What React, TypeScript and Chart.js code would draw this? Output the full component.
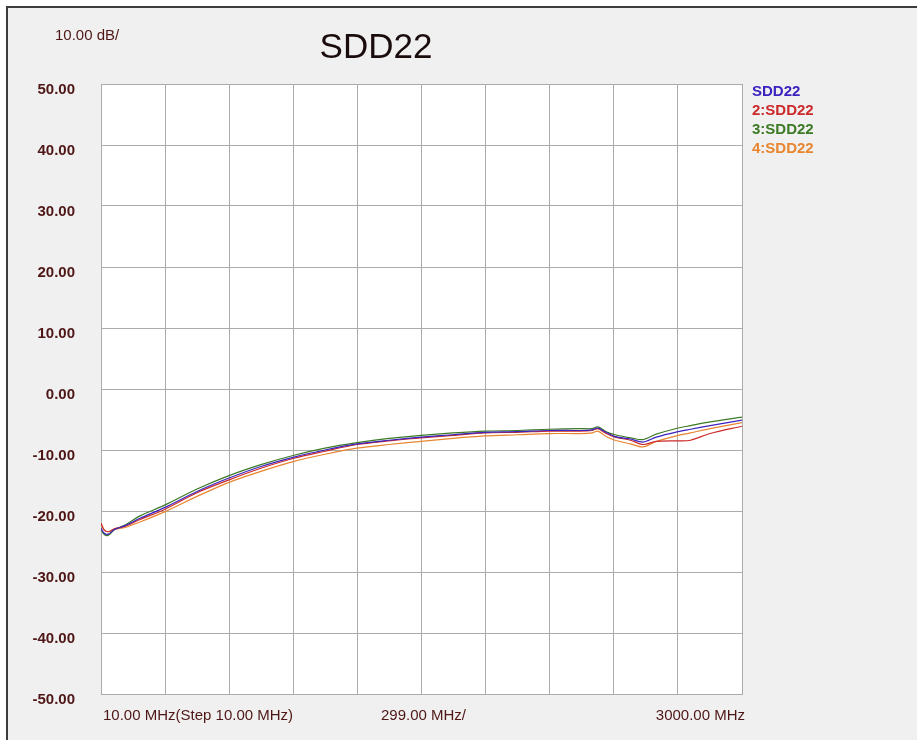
import React, { useEffect, useRef } from "react";
import { Chart, registerables } from "chart.js";

Chart.register(...registerables);

// Frequencies (MHz) where the traces were read
const freqs = [10, 24, 43, 75, 122, 192, 309, 458, 607, 756, 906, 1055, 1204, 1353, 1503, 1652, 1801, 1951, 2100, 2244, 2300, 2328, 2366, 2408, 2480, 2538, 2600, 2702, 2760, 2851, 3000];

const sdd22_1 = [-22.8, -23.6, -23.8, -23.0, -22.4, -21.2, -19.4, -16.8, -14.6, -12.7, -11.2, -10.0, -9.0, -8.4, -7.9, -7.5, -7.1, -7.0, -6.8, -6.8, -6.7, -6.4, -7.1, -7.8, -8.2, -8.7, -7.9, -7.0, -6.6, -6.0, -5.1];
const sdd22_2 = [-22.0, -23.1, -23.4, -22.9, -22.5, -21.4, -19.7, -17.0, -14.9, -13.0, -11.4, -10.2, -9.1, -8.5, -8.0, -7.6, -7.2, -7.1, -6.9, -6.9, -6.8, -6.5, -7.3, -7.9, -8.4, -9.1, -8.6, -8.5, -8.4, -7.3, -6.1];
const sdd22_3 = [-23.0, -23.8, -24.0, -23.0, -22.3, -20.8, -19.0, -16.4, -14.2, -12.4, -10.9, -9.7, -8.8, -8.1, -7.6, -7.2, -6.9, -6.8, -6.6, -6.5, -6.5, -6.2, -7.0, -7.5, -8.0, -8.3, -7.4, -6.4, -6.0, -5.4, -4.6];
const sdd22_4 = [-22.0, -23.0, -23.4, -23.0, -22.7, -21.8, -20.1, -17.6, -15.3, -13.5, -11.9, -10.7, -9.7, -9.1, -8.6, -8.1, -7.7, -7.5, -7.3, -7.3, -7.2, -6.9, -7.8, -8.4, -9.0, -9.5, -8.6, -7.6, -7.2, -6.5, -5.5];

const seriesLabels = ["SDD22", "2:SDD22", "3:SDD22", "4:SDD22"];
const seriesColors = ["#3b23c0", "#cc2a2a", "#3c7a26", "#e8852f"];

const xTickValues = [10, 309, 608, 907, 1206, 1505, 1804, 2103, 2402, 2701, 3000];
const xMin = 10;
const xMax = 3000;
const yMin = -50;
const yMax = 50;
const yStep = 10;

const titleText = "SDD22";
const scaleText = "10.00 dB/";
const xStartText = "10.00 MHz(Step 10.00 MHz)";
const xMidText = "299.00 MHz/";
const xEndText = "3000.00 MHz";

const labelColor = "#4e1616";
const fontFamily = "'Liberation Sans', Arial, sans-serif";

export default function App() {
  const canvasRef = useRef<HTMLCanvasElement | null>(null);

  useEffect(() => {
    const canvas = canvasRef.current;
    if (!canvas) return;

    const bgPlugin = {
      id: "plotBg",
      beforeDraw(chart: any) {
        const { ctx, chartArea } = chart;
        ctx.save();
        ctx.fillStyle = "#ffffff";
        ctx.fillRect(chartArea.left, chartArea.top, chartArea.right - chartArea.left, chartArea.bottom - chartArea.top);
        ctx.restore();
      },
    };

    const textPlugin = {
      id: "texts",
      afterDraw(chart: any) {
        const { ctx, chartArea } = chart;
        ctx.save();
        ctx.textBaseline = "middle";
        // title
        ctx.fillStyle = "#1a0c0c";
        ctx.font = `35px ${fontFamily}`;
        ctx.textAlign = "center";
        ctx.fillText(titleText, 376, 48);
        // scale text
        ctx.fillStyle = labelColor;
        ctx.font = `15px ${fontFamily}`;
        ctx.textAlign = "left";
        ctx.fillText(scaleText, 55, 36);
        // x labels
        const xs = chart.scales.x;
        ctx.font = `15px ${fontFamily}`;
        ctx.textAlign = "left";
        ctx.fillText(xStartText, chartArea.left + 2, 716);
        ctx.textAlign = "center";
        ctx.fillText(xMidText, xs.getPixelForValue(xTickValues[5]) + 2, 716);
        ctx.textAlign = "right";
        ctx.fillText(xEndText, chartArea.right + 3, 716);
        // legend
        ctx.font = `bold 15px ${fontFamily}`;
        ctx.textAlign = "left";
        chart.data.datasets.forEach((ds: any, i: number) => {
          ctx.fillStyle = ds.borderColor;
          ctx.fillText(ds.label, chartArea.right + 10, 92 + i * 18.8);
        });
        ctx.restore();
      },
    };

    const mk = (label: string, color: string, vals: number[]) => ({
      label,
      data: freqs.map((f, i) => ({ x: f, y: vals[i] })),
      borderColor: color,
      backgroundColor: color,
      borderWidth: 1.2,
      pointRadius: 0,
      tension: 0.3,
      fill: false,
    });

    const chart = new Chart(canvas, {
      type: "line",
      data: {
        datasets: [
          mk(seriesLabels[0], seriesColors[0], sdd22_1),
          mk(seriesLabels[1], seriesColors[1], sdd22_2),
          mk(seriesLabels[2], seriesColors[2], sdd22_3),
          mk(seriesLabels[3], seriesColors[3], sdd22_4),
        ],
      },
      options: {
        responsive: false,
        animation: false,
        events: [],
        layout: { padding: { left: 0, top: 84, right: 175, bottom: 46 } },
        plugins: {
          legend: { display: false },
          tooltip: { enabled: false },
          title: { display: false },
        },
        scales: {
          x: {
            type: "linear",
            min: xMin,
            max: xMax,
            afterBuildTicks: (scale: any) => {
              scale.ticks = xTickValues.map((v) => ({ value: v }));
            },
            afterFit: (scale: any) => {
              scale.height = 0;
            },
            ticks: { display: false },
            grid: { color: "#ababab", lineWidth: 1, drawTicks: false },
            border: { color: "#ababab", width: 1 },
          },
          y: {
            type: "linear",
            min: yMin,
            max: yMax,
            afterFit: (scale: any) => {
              scale.width = 101;
            },
            ticks: {
              stepSize: yStep,
              padding: 26,
              labelOffset: 6,
              color: labelColor,
              font: { family: fontFamily, size: 15, weight: "bold" },
              callback: (v: any) => Number(v).toFixed(2),
            },
            grid: { color: "#ababab", lineWidth: 1, drawTicks: false },
            border: { color: "#ababab", width: 1 },
          },
        },
      },
      plugins: [bgPlugin, textPlugin],
    } as any);

    return () => chart.destroy();
  }, []);

  return (
    <div style={{ position: "fixed", left: 0, top: 0, width: 917, height: 740, background: "#ffffff", overflow: "hidden" }}>
      <div
        style={{
          position: "absolute",
          left: 6,
          top: 6,
          width: 911,
          height: 734,
          background: "#f0f0f0",
          borderTop: "2px solid #3c3c3c",
          borderLeft: "2px solid #3c3c3c",
          boxSizing: "border-box",
        }}
      />
      <canvas ref={canvasRef} width={917} height={740} style={{ position: "absolute", left: 0, top: 0 }} />
    </div>
  );
}
